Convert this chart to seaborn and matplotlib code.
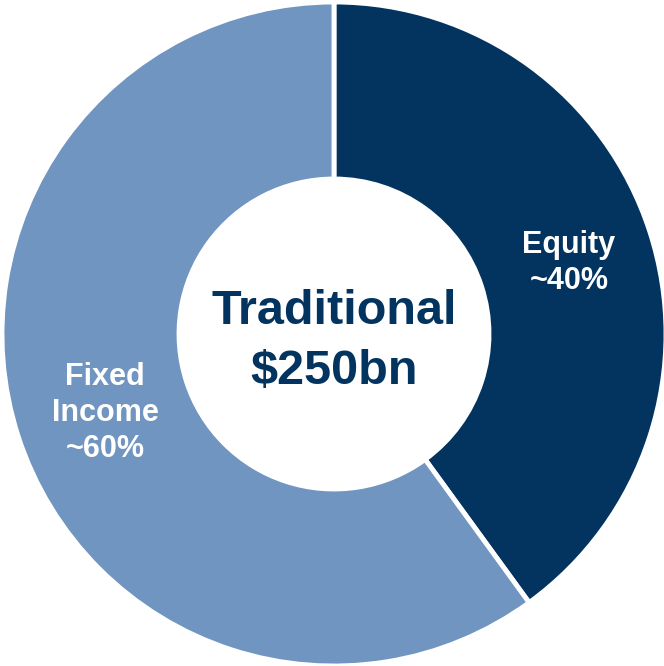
import matplotlib
matplotlib.use("Agg")
import matplotlib.pyplot as plt
import seaborn as sns

categories = ["Equity", "Fixed\nIncome"]
shares = [40, 60]
label_texts = ["Equity\n~40%", "Fixed\nIncome\n~60%"]
center_title = "Traditional"
center_value = "$250bn"

sns.set_theme(style="white")
plt.rcParams['font.family'] = ['Liberation Sans', 'DejaVu Sans']
colors = ["#02345F", "#7095C0"]
navy = "#02345F"

fig = plt.figure(figsize=(6.64, 6.66), dpi=100)
ax = fig.add_axes([0, 0, 1, 1])
R = 332.0
ax.pie(shares, colors=colors, startangle=90, counterclock=False, radius=1,
       wedgeprops=dict(width=1 - 155 / R, edgecolor="white", linewidth=3.5))
ax.set_xlim(-334 / R, (664 - 334) / R)
ax.set_ylim(-332 / R, 334 / R)
ax.set_aspect("equal")
ax.axis("off")

ax.text((569 - 334) / R, (334 - 263) / R, label_texts[0], ha="center", va="center",
        color="white", fontsize=22, fontweight="bold", linespacing=1.27)
ax.text((105 - 334) / R, (334 - 413) / R, label_texts[1], ha="center", va="center",
        color="white", fontsize=22, fontweight="bold", linespacing=1.27)
ax.text(0, 0.068, center_title, ha="center", va="center", color=navy,
        fontsize=35, fontweight="bold")
ax.text(0, -0.112, center_value, ha="center", va="center", color=navy,
        fontsize=35, fontweight="bold")

fig.savefig("out.png", dpi=100, facecolor="white")
